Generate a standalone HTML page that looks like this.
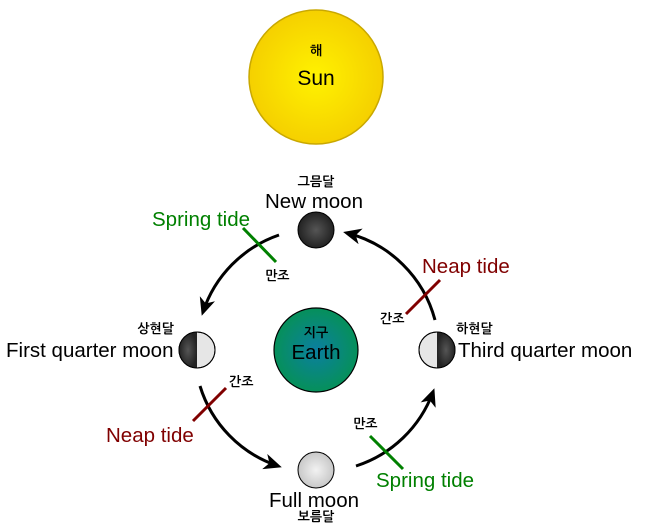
<!DOCTYPE html>
<html><head><meta charset="utf-8"><style>body{margin:0;background:#fff}svg{display:block}</style></head><body>
<svg width="645" height="525" viewBox="0 0 645 525" xmlns="http://www.w3.org/2000/svg" font-family="Liberation Sans, NanumGothic, sans-serif">
<defs>
<radialGradient id="sun"><stop offset="0" stop-color="#fff200"/><stop offset="1" stop-color="#f5d000"/></radialGradient>
<radialGradient id="earth"><stop offset="0" stop-color="#0b7fa0"/><stop offset="1" stop-color="#06905a"/></radialGradient>
<radialGradient id="dark"><stop offset="0" stop-color="#555"/><stop offset="1" stop-color="#222"/></radialGradient>
<radialGradient id="light"><stop offset="0" stop-color="#f2f2f2"/><stop offset="1" stop-color="#c8c8c8"/></radialGradient>
<marker id="ah" markerWidth="18" markerHeight="16" refX="14" refY="8" orient="auto" markerUnits="userSpaceOnUse" viewBox="0 0 18 16"><path d="M0,0 L18,8 L0,16 L5,8z" fill="#000"/></marker>
</defs>
<circle cx="316" cy="77" r="67" fill="url(#sun)" stroke="#c9a800" stroke-width="1.5"/>
<text x="316" y="55" font-size="13" font-weight="bold" text-anchor="middle">해</text>
<text x="316" y="85" font-size="21" text-anchor="middle">Sun</text>
<circle cx="316" cy="350" r="42" fill="url(#earth)" stroke="#000" stroke-width="1.2"/>
<text x="316" y="337" font-size="13" font-weight="bold" text-anchor="middle">지구</text>
<text x="316" y="359" font-size="20.5" text-anchor="middle">Earth</text>
<g fill="none" stroke="#000" stroke-width="3">
<path d="M279,235 A122,122 0 0 0 203,312" marker-end="url(#ah)"/>
<path d="M435,320 A122,122 0 0 0 347,233" marker-end="url(#ah)"/>
<path d="M200,386 A122,122 0 0 0 278,466" marker-end="url(#ah)"/>
<path d="M356,466 A122,122 0 0 0 433,392" marker-end="url(#ah)"/>
</g>
<g stroke-width="3">
<line x1="243" y1="228" x2="276" y2="262" stroke="#008000"/>
<line x1="440" y1="280" x2="406" y2="314" stroke="#800000"/>
<line x1="193" y1="421" x2="226" y2="388" stroke="#800000"/>
<line x1="370" y1="436" x2="403" y2="469" stroke="#008000"/>
</g>
<circle cx="316" cy="230" r="18" fill="url(#dark)" stroke="#000"/>
<circle cx="316" cy="470" r="18" fill="url(#light)" stroke="#000"/>
<circle cx="197" cy="350" r="18" fill="#e6e6e6" stroke="#000"/>
<path d="M197,332 A18,18 0 0 0 197,368z" fill="url(#dark)"/>
<circle cx="197" cy="350" r="18" fill="none" stroke="#000"/>
<circle cx="437" cy="350" r="18" fill="#e6e6e6" stroke="#000"/>
<path d="M437,332 A18,18 0 0 1 437,368z" fill="url(#dark)"/>
<circle cx="437" cy="350" r="18" fill="none" stroke="#000"/>
<g font-size="13" font-weight="bold">
<text x="316" y="186" text-anchor="middle">그믐달</text>
<text x="174" y="333" text-anchor="end">상현달</text>
<text x="456" y="333">하현달</text>
<text x="316" y="521" text-anchor="middle">보름달</text>
<text x="265" y="280">만조</text>
<text x="380" y="323">간조</text>
<text x="229" y="386">간조</text>
<text x="353" y="428">만조</text>
</g>
<g font-size="20.5">
<text x="314" y="208" text-anchor="middle">New moon</text>
<text x="6" y="357">First quarter moon</text>
<text x="458" y="357">Third quarter moon</text>
<text x="314" y="507" text-anchor="middle">Full moon</text>
<text x="152" y="226" fill="#008000">Spring tide</text>
<text x="422" y="273" fill="#800000">Neap tide</text>
<text x="106" y="442" fill="#800000">Neap tide</text>
<text x="376" y="487" fill="#008000">Spring tide</text>
</g>
</svg>
</body></html>
